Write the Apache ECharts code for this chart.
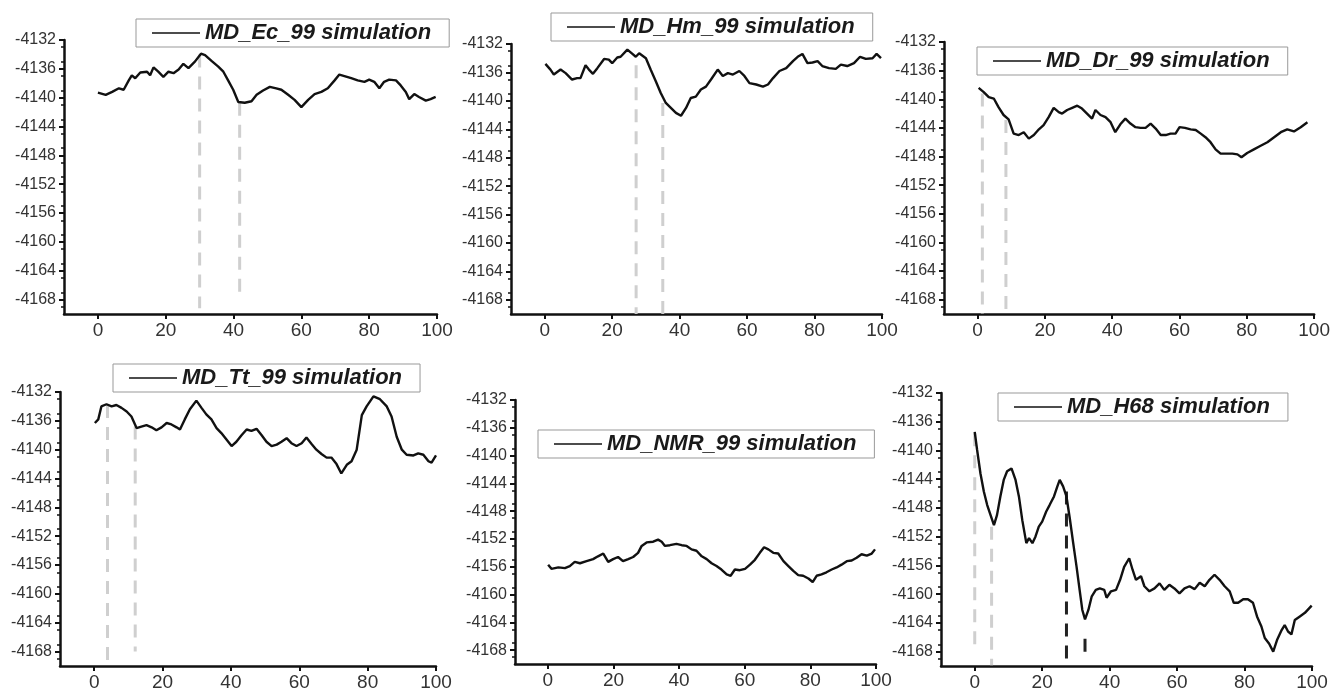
<!DOCTYPE html>
<html>
<head>
<meta charset="utf-8">
<script src="https://cdn.jsdelivr.net/npm/echarts@6/dist/echarts.min.js"></script>
<style>
  html, body { margin: 0; padding: 0; background: #fff; }
  #chart { width: 1333px; height: 692px; }
</style>
</head>
<body>
<div id="chart"></div>
<script>
// tick labels shared by all six panels
const xTicks = [0, 20, 40, 60, 80, 100];
const yTicks = [-4168, -4164, -4160, -4156, -4152, -4148, -4144, -4140, -4136, -4132];

const names = ['MD_Ec_99 simulation', 'MD_Hm_99 simulation', 'MD_Dr_99 simulation',
               'MD_Tt_99 simulation', 'MD_NMR_99 simulation', 'MD_H68 simulation'];

// curves, [x, energy]
const ecData = [[0,-4139.3],[2.3,-4139.6],[4.2,-4139.2],[6.2,-4138.7],[7.6,-4138.9],[9.1,-4137.6],[10,-4136.9],[11,-4137.3],[12.5,-4136.5],[14.5,-4136.4],[15.4,-4136.9],[16.4,-4135.8],[17.8,-4136.4],[19.3,-4137.1],[20.8,-4136.4],[22.3,-4136.6],[23.8,-4136.1],[25.2,-4135.3],[26.7,-4135.9],[28.6,-4135],[30.4,-4133.9],[31.6,-4134.1],[33.5,-4134.9],[35.5,-4135.7],[37,-4136.4],[38.4,-4137.6],[39.9,-4138.9],[41.4,-4140.6],[43.3,-4140.7],[45.3,-4140.5],[46.8,-4139.6],[48.7,-4139],[50.7,-4138.5],[52.6,-4138.7],[54.1,-4138.9],[56.1,-4139.6],[58,-4140.3],[60,-4141.3],[62,-4140.3],[63.9,-4139.5],[65.9,-4139.2],[67.8,-4138.7],[69.8,-4137.6],[71.2,-4136.8],[72.7,-4137],[74.7,-4137.3],[76.6,-4137.6],[78.6,-4137.8],[80,-4137.5],[81.5,-4137.8],[83,-4138.7],[84.4,-4137.8],[85.9,-4137.5],[87.9,-4137.6],[89.3,-4138.3],[90.8,-4139.2],[91.8,-4140.2],[93.3,-4139.5],[94.7,-4139.9],[96.7,-4140.4],[98.1,-4140.2],[99.6,-4139.9]];

const hmData = [[0.2,-4134.8],[1.7,-4135.6],[2.7,-4136.3],[4.7,-4135.6],[6.2,-4136.1],[8.1,-4137.0],[9.6,-4136.8],[10.6,-4136.8],[12.1,-4135.0],[13.1,-4135.6],[14.3,-4136.2],[15.6,-4135.4],[17.6,-4134.1],[19.0,-4134.2],[20.0,-4134.7],[21.5,-4133.9],[22.5,-4133.8],[24.5,-4132.8],[26.0,-4133.4],[27.0,-4133.8],[28,-4133.3],[30,-4134.0],[31.4,-4135.6],[32.9,-4137.2],[34.4,-4138.9],[35.9,-4140.3],[37.4,-4141.0],[38.9,-4141.7],[40.4,-4142.1],[41.9,-4141.0],[43.3,-4139.6],[44.8,-4139.4],[46.3,-4138.4],[47.8,-4138.0],[49.3,-4137.0],[51.3,-4135.6],[52.8,-4136.5],[54.3,-4136.1],[55.8,-4136.3],[57.7,-4135.8],[59.2,-4136.5],[60.7,-4137.5],[62.7,-4137.7],[64.7,-4138.0],[66.2,-4137.7],[67.7,-4136.8],[69.6,-4135.8],[71.6,-4135.4],[73.6,-4134.4],[75.0,-4133.8],[76.4,-4133.4],[77.9,-4134.7],[79.4,-4134.6],[80.9,-4134.4],[82.3,-4135.1],[84.3,-4135.4],[86.3,-4135.5],[87.8,-4134.9],[89.7,-4135.1],[91.7,-4134.7],[93.5,-4133.8],[95.2,-4134.1],[97.2,-4134.0],[98.4,-4133.4],[99.7,-4134.0]];

const drData = [[0.3,-4138.4],[1.8,-4139.0],[3.3,-4139.7],[4.8,-4139.9],[6.2,-4141.1],[7.7,-4142.2],[9.2,-4142.8],[10.7,-4144.8],[12.2,-4145.0],[13.7,-4144.6],[15.2,-4145.5],[16.7,-4145.0],[18.2,-4144.2],[19.6,-4143.6],[21.1,-4142.5],[22.6,-4141.2],[24.1,-4141.8],[25.1,-4142.0],[26.6,-4141.5],[28.1,-4141.2],[29.6,-4140.9],[31.0,-4141.3],[32.5,-4142.0],[34.0,-4142.7],[35.0,-4141.5],[36.5,-4142.2],[38.0,-4142.5],[39.5,-4143.2],[40.9,-4144.6],[42.4,-4143.5],[43.9,-4142.7],[45.4,-4143.4],[46.9,-4143.9],[48.4,-4144.0],[49.9,-4144.0],[51.4,-4143.4],[52.9,-4144.1],[54.4,-4145.0],[55.9,-4145.0],[57.3,-4144.8],[58.8,-4144.8],[60.0,-4143.9],[61.6,-4144.0],[63.3,-4144.2],[64.8,-4144.3],[66.3,-4144.8],[67.7,-4145.3],[69.2,-4146.0],[70.7,-4147.0],[72.2,-4147.6],[73.7,-4147.6],[75.7,-4147.6],[77.2,-4147.7],[78.4,-4148.1],[80.1,-4147.5],[82.1,-4147.0],[84.1,-4146.5],[86.1,-4146.0],[88.1,-4145.3],[90.1,-4144.6],[92.0,-4144.2],[94.0,-4144.5],[96.0,-4143.9],[98.0,-4143.2]];

const ttData = [[0.2,-4136.3],[1.2,-4135.8],[2.1,-4134.0],[3.6,-4133.7],[5.1,-4134.0],[6.5,-4133.8],[8.0,-4134.2],[9.5,-4134.7],[10.9,-4135.4],[12.4,-4137.0],[13.8,-4136.8],[15.3,-4136.6],[16.8,-4136.9],[18.2,-4137.3],[19.7,-4136.9],[21.2,-4136.3],[22.6,-4136.5],[24.1,-4136.9],[25.1,-4137.2],[26.5,-4135.8],[28.0,-4134.4],[29.9,-4133.2],[31.4,-4134.2],[32.8,-4135.1],[34.3,-4135.8],[35.8,-4137.0],[37.2,-4137.7],[38.7,-4138.6],[40.2,-4139.5],[41.6,-4138.9],[43.1,-4138.0],[44.6,-4137.2],[46.0,-4137.4],[47.5,-4137.1],[49.0,-4138.0],[50.4,-4138.9],[51.9,-4139.5],[53.4,-4139.3],[54.8,-4138.9],[56.3,-4138.4],[57.7,-4139.1],[59.2,-4139.5],[60.7,-4139.1],[62.1,-4138.3],[63.6,-4139.2],[65.0,-4140.0],[66.5,-4140.6],[68.0,-4141.1],[69.4,-4141.1],[70.9,-4142.0],[72.3,-4143.3],[73.9,-4142.1],[75.3,-4141.6],[76.8,-4140.0],[78.3,-4135.2],[79.7,-4134.0],[81.7,-4132.6],[83.6,-4133.0],[85.6,-4134.0],[87.0,-4135.4],[88.5,-4138.2],[90.0,-4140.0],[91.4,-4140.7],[93.4,-4140.8],[94.8,-4140.5],[96.3,-4140.7],[97.8,-4141.6],[98.7,-4141.8],[100,-4140.8]];

const nmrData = [[0.1,-4155.7],[1.1,-4156.3],[3.2,-4156.1],[5.2,-4156.2],[6.7,-4155.9],[8.2,-4155.3],[9.8,-4155.5],[11.8,-4155.2],[13.8,-4154.9],[15.3,-4154.5],[16.9,-4154.1],[18.4,-4155.3],[19.9,-4154.9],[21.4,-4154.6],[22.9,-4155.2],[24.5,-4154.9],[26.0,-4154.6],[27.5,-4154.0],[28.6,-4153.0],[30.1,-4152.5],[32.1,-4152.4],[33.6,-4152.1],[34.7,-4152.4],[35.7,-4153.0],[37.2,-4152.9],[39.2,-4152.7],[40.8,-4152.9],[42.3,-4153.0],[43.8,-4153.5],[45.3,-4153.7],[46.9,-4154.5],[48.4,-4154.9],[49.9,-4155.5],[51.4,-4155.9],[52.9,-4156.4],[54.5,-4157.1],[55.7,-4157.3],[57.0,-4156.4],[58.5,-4156.5],[60.1,-4156.3],[61.6,-4155.7],[63.1,-4155.0],[64.6,-4154.0],[65.9,-4153.2],[67.2,-4153.5],[68.7,-4154.0],[70.2,-4154.1],[71.8,-4155.2],[73.3,-4155.9],[74.8,-4156.6],[76.3,-4157.2],[77.8,-4157.3],[79.4,-4157.7],[80.7,-4158.2],[81.9,-4157.3],[83.4,-4157.1],[84.9,-4156.8],[86.5,-4156.4],[88.0,-4156.1],[89.5,-4155.7],[91.1,-4155.2],[92.6,-4155.1],[94.1,-4154.7],[95.6,-4154.2],[97.2,-4154.4],[98.7,-4154.1],[99.7,-4153.5]];

const h68Data = [[0,-4137.4],[0.7,-4139.9],[1.7,-4143.2],[2.7,-4145.7],[3.7,-4147.6],[4.7,-4149.0],[5.7,-4150.4],[6.6,-4149.0],[7.6,-4146.4],[8.6,-4144.1],[9.6,-4142.9],[10.9,-4142.5],[12.1,-4144.1],[13.1,-4146.4],[14.1,-4149.7],[15.3,-4152.9],[16.1,-4152.2],[17.1,-4152.9],[18.0,-4152.0],[19.0,-4150.6],[20.0,-4149.9],[21.2,-4148.5],[22.2,-4147.6],[23.5,-4146.4],[24.5,-4145.0],[25.2,-4144.1],[26.2,-4145.0],[27.2,-4146.4],[28.2,-4149.5],[29.2,-4152.9],[30.2,-4156.2],[31.1,-4159.4],[31.9,-4162.2],[32.7,-4163.5],[33.7,-4162.2],[34.7,-4160.3],[35.9,-4159.4],[37.1,-4159.2],[38.4,-4159.4],[39.1,-4160.5],[40.4,-4159.6],[41.9,-4159.4],[43.1,-4158.0],[44.3,-4156.2],[45.8,-4155.0],[46.8,-4156.6],[47.8,-4158.0],[49.3,-4157.5],[50.3,-4158.9],[51.8,-4159.6],[53.3,-4159.2],[54.8,-4158.5],[56.2,-4159.4],[57.7,-4158.7],[59.2,-4159.2],[60.7,-4159.9],[62.2,-4159.2],[63.7,-4158.9],[65.2,-4159.3],[66.7,-4158.4],[68.2,-4158.9],[69.6,-4158.0],[71.1,-4157.3],[72.6,-4158.0],[74.1,-4158.9],[75.6,-4159.6],[76.8,-4161.2],[78.1,-4161.2],[79.6,-4160.7],[81.0,-4160.7],[82.5,-4161.2],[83.7,-4163.1],[85.0,-4164.5],[86.0,-4166.1],[87.3,-4166.9],[88.5,-4168.0],[89.7,-4166.3],[91.0,-4165.0],[91.9,-4164.3],[92.9,-4165.2],[93.9,-4165.6],[94.9,-4163.6],[96.4,-4163.1],[97.9,-4162.6],[99.9,-4161.6]];

// dashed guides: [x, from, to, dark?]
const ecGuides = [[30, -4134, -4169.2, 0], [41.8, -4140.7, -4167.4, 0]];
const hmGuides = [[27.1, -4135, -4170, 0], [35, -4140.3, -4170, 0]];
const drGuides = [[1.4, -4139.2, -4170, 0], [8.4, -4142.9, -4170, 0]];
const ttGuides = [[3.9, -4133.8, -4169.2, 0], [12, -4136.8, -4168, 0]];
const nmrGuides = [];
const h68Guides = [[0, -4137.6, -4168.2, 0], [5, -4150.6, -4169.9, 0], [27.2, -4145.7, -4169, 1], [32.7, -4166.2, -4168, 1]];

const curves = [ecData, hmData, drData, ttData, nmrData, h68Data];
const guides = [ecGuides, hmGuides, drGuides, ttGuides, nmrGuides, h68Guides];

const layout = [
  { left: 64, top: 40, width: 373, height: 274, lgLeft: 136, lgTop: 19 },
  { left: 511, top: 44, width: 371, height: 270, lgLeft: 551, lgTop: 13 },
  { left: 944, top: 42, width: 371, height: 272, lgLeft: 977, lgTop: 47 },
  { left: 60, top: 392, width: 376, height: 277, lgLeft: 113, lgTop: 364 },
  { left: 515, top: 400, width: 361, height: 264, lgLeft: 538, lgTop: 430 },
  { left: 941, top: 393, width: 371, height: 274, lgLeft: 998, lgTop: 393 }
];

const font = 'Liberation Sans, Arial, sans-serif';
const grid = [], xAxis = [], yAxis = [], legend = [], series = [];

layout.forEach(function (p, i) {
  grid.push({ left: p.left, top: p.top, width: p.width, height: p.height });

  xAxis.push({
    type: 'value', gridIndex: i, min: -10, max: 100, interval: 10,
    axisLine: { onZero: false, lineStyle: { color: '#111', width: 2.5 } },
    axisTick: { customValues: xTicks, length: 5, lineStyle: { color: '#111', width: 2 } },
    axisLabel: { customValues: xTicks, fontSize: 19, color: '#333', margin: 7, fontFamily: font },
    splitLine: { show: false }
  });

  yAxis.push({
    type: 'value', gridIndex: i, min: -4170, max: -4132, interval: 2,
    axisLine: { show: true, onZero: false, lineStyle: { color: '#111', width: 2.5 } },
    axisTick: { customValues: yTicks, length: 5, lineStyle: { color: '#111', width: 2 } },
    minorTick: { show: true, splitNumber: 2, length: 3, lineStyle: { color: '#111', width: 1.5 } },
    axisLabel: {
      customValues: yTicks, fontSize: 16, color: '#333', margin: 8, fontFamily: font,
      formatter: function (v) { return String(v); }
    },
    splitLine: { show: false }
  });

  legend.push({
    data: [names[i]], left: p.lgLeft, top: p.lgTop,
    padding: [3, 18, 3, 16], itemWidth: 48, itemHeight: 1.6, icon: 'rect',
    itemStyle: { color: '#111' },
    borderColor: '#999', borderWidth: 1, backgroundColor: '#fff',
    selectedMode: false,
    textStyle: { fontSize: 22, fontWeight: 'bold', fontStyle: 'italic', color: '#1a1a1a', fontFamily: font, lineHeight: 22 }
  });

  guides[i].forEach(function (g, k) {
    series.push({
      name: 'guide' + i + '_' + k, type: 'line', xAxisIndex: i, yAxisIndex: i,
      data: [[g[0], g[1]], [g[0], g[2]]], symbol: 'none', silent: true, z: 1,
      lineStyle: { color: g[3] ? '#222' : '#cfcfcf', width: 3, type: [13, 9] }
    });
  });

  series.push({
    name: names[i], type: 'line', xAxisIndex: i, yAxisIndex: i,
    data: curves[i], symbol: 'none', z: 3,
    lineStyle: { color: '#111', width: 2.4 }, itemStyle: { color: '#111' }
  });
});

const chart = echarts.init(document.getElementById('chart'));
chart.setOption({
  animation: false,
  backgroundColor: '#fff',
  grid: grid, xAxis: xAxis, yAxis: yAxis, legend: legend, series: series
});
</script>
</body>
</html>
